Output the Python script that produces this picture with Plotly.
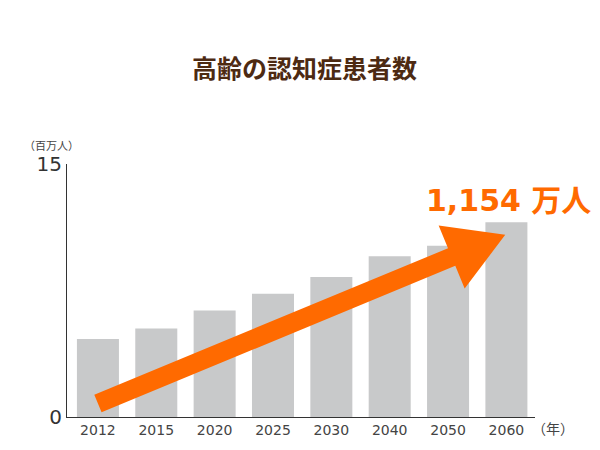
import plotly.graph_objects as go
import numpy as np

years = ["2012", "2015", "2020", "2025", "2030", "2040", "2050", "2060"]
patients = [4.62, 5.25, 6.31, 7.30, 8.30, 9.53, 10.16, 11.54]  # 百万人
y_ticks = [0, 15]
title_text = "高齢の認知症患者数"
callout_text = "1,154 万人"

OFF = 8  # page body margin
W, H = 600 - OFF, 450 - OFF
# screen-space plot area: left 67, right 535, top 164, bottom 417
ML = 67 - OFF
MR = 600 - 535
MT = 164 - OFF
MB = 450 - 417
PW, PH = W - ML - MR, H - MT - MB
XR = [-0.53, 7.49]
YR = [0, 15]

def to_px(xi, yv):
    px = ML + (xi - XR[0]) * PW / (XR[1] - XR[0])
    py = MT + (YR[1] - yv) * PH / (YR[1] - YR[0])
    return np.array([px, py])

def to_paper(p):
    return (p[0] - ML) / PW, (H - MB - p[1]) / PH

def scr(sx, sy):
    # screen coords -> paper
    return to_paper(np.array([sx - OFF, sy - OFF]))

# arrow from first bar region to last bar region (data coords)
tail = to_px(0, 0.8)
tip = to_px(6.98, 10.8)
u = (tip - tail) / np.linalg.norm(tip - tail)
n = np.array([u[1], -u[0]])
head_len, head_hw, shaft_hw = 58, 34, 9.5
base = tip - u * head_len
pts = [tail + n * shaft_hw, base + n * shaft_hw, base + n * head_hw, tip,
       base - n * head_hw, base - n * shaft_hw, tail - n * shaft_hw]
path = "M " + " L ".join("%.5f,%.5f" % to_paper(p) for p in pts) + " Z"

fig = go.Figure()
fig.add_trace(go.Bar(x=years, y=patients, marker_color="#c8c9ca",
                     marker_line_width=0, hoverinfo="skip"))

fig.add_shape(type="path", path=path, xref="paper", yref="paper",
              fillcolor="#ff6a00", line=dict(width=0), layer="above")

font_fam = "DejaVu Sans, Noto Sans CJK JP"
tx, ty = scr(304, 67)
ux, uy = scr(22, 145)
nx, ny = scr(530, 428)
cx, cy = scr(424, 200)
fig.update_layout(
    width=W, height=H,
    margin=dict(l=ML, r=MR, t=MT, b=MB, pad=0),
    paper_bgcolor="white", plot_bgcolor="white",
    bargap=0.28, showlegend=False,
    font=dict(family=font_fam, color="#333333"),
    xaxis=dict(type="category", range=XR, showline=True, linecolor="#333333",
               linewidth=1, ticks="", showgrid=False,
               tickfont=dict(size=14, color="#444444")),
    yaxis=dict(range=YR, showline=True, linecolor="#333333", linewidth=1,
               ticks="", showgrid=False, zeroline=False, tickvals=y_ticks,
               tickfont=dict(size=20, color="#333333")),
    annotations=[
        dict(text="<b>" + title_text + "</b>", xref="paper", yref="paper",
             x=tx, y=ty, xanchor="center", yanchor="middle", showarrow=False,
             font=dict(size=25, color="#4d2a12", family="Noto Sans CJK JP")),
        dict(text="（百万人）", xref="paper", yref="paper",
             x=ux, y=uy, xanchor="left", yanchor="middle", showarrow=False,
             font=dict(size=11, color="#444444", family="Noto Sans CJK JP")),
        dict(text="（年）", xref="paper", yref="paper",
             x=nx, y=ny, xanchor="left", yanchor="middle", showarrow=False,
             font=dict(size=14, color="#444444", family="Noto Sans CJK JP")),
        dict(text="<b>" + callout_text + "</b>", xref="paper", yref="paper",
             x=cx, y=cy, xanchor="left", yanchor="middle", showarrow=False,
             font=dict(size=30, color="#ff6a00", family=font_fam)),
    ],
)

fig.write_html("out.html")
